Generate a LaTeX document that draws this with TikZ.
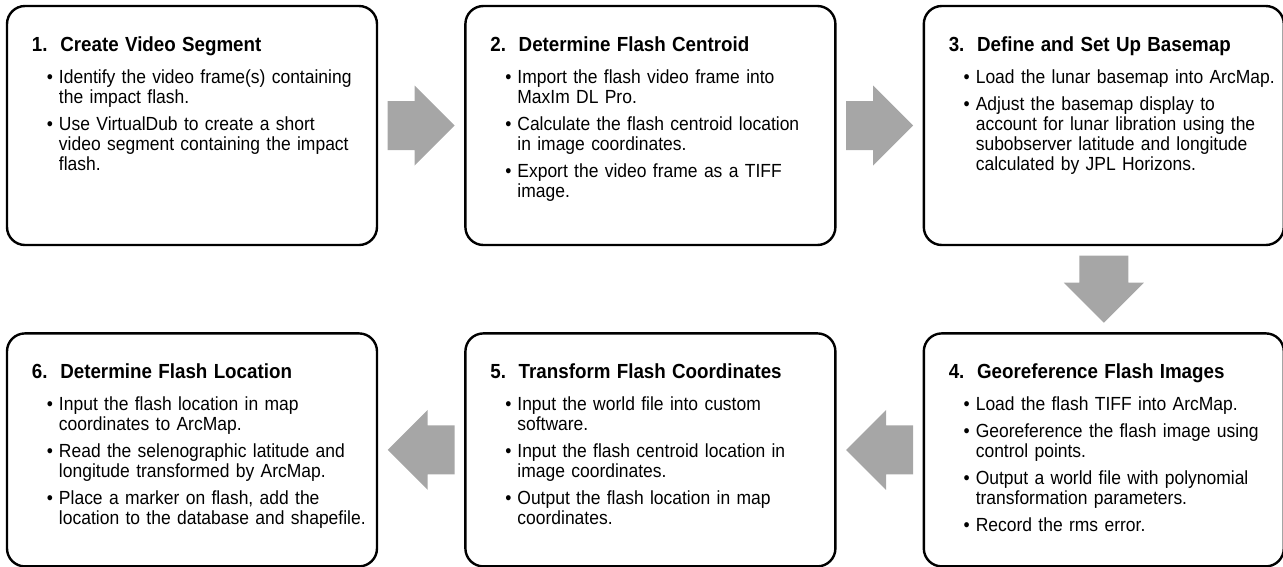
\documentclass[tikz,border=0pt]{standalone}
\usepackage{fontspec}
\setmainfont{Liberation Sans}[FakeStretch=0.92]
\usepackage{enumitem}
\setlist[itemize]{label=\textbullet, leftmargin=50pt, labelsep=6pt, topsep=12.5pt, partopsep=0pt, itemsep=7pt, parsep=0pt}
\usetikzlibrary{positioning,calc}
\definecolor{arrowgray}{HTML}{A6A6A6}
\tikzset{
  stepbox/.style={draw, line width=2.4pt, rounded corners=18pt, inner xsep=2pt, inner ysep=31pt,
    text width=366pt, text height=14pt, text depth=163pt, font=\fontsize{19}{20}\selectfont},
  flowarrow/.pic={
    \fill[arrowgray] (-33.5,-24.5) -- (-6.5,-24.5) -- (-6.5,-40) -- (33.5,0)
      -- (-6.5,40) -- (-6.5,24.5) -- (-33.5,24.5) -- cycle;
  }
}
\newcommand{\steptitle}[1]{\raggedright\hspace*{23pt}{\fontsize{20.4}{20}\selectfont\bfseries #1}\par}
\begin{document}
\begin{tikzpicture}[x=1pt, y=-1pt, node distance=86pt]
\useasboundingbox (0,0) rectangle (1283,566);

% top row
\node[stepbox] (segment) at (192,125.5) {\steptitle{1.~~Create Video Segment}
\begin{itemize}
\item Identify the video frame(s) containing\\ the impact flash.
\item Use VirtualDub to create a short\\ video segment containing the impact\\ flash.
\end{itemize}};
\node[stepbox, right=of segment] (centroid) {\steptitle{2.~~Determine Flash Centroid}
\begin{itemize}
\item Import the flash video frame into\\ MaxIm DL Pro.
\item Calculate the flash centroid location\\ in image coordinates.
\item Export the video frame as a TIFF\\ image.
\end{itemize}};
\node[stepbox, text width=356pt, right=of centroid] (basemap) {\steptitle{3.~~Define and Set Up Basemap}
\begin{itemize}
\item Load the lunar basemap into ArcMap.
\item Adjust the basemap display to\\ account for lunar libration using the\\ subobserver latitude and longitude\\ calculated by JPL Horizons.
\end{itemize}};

% bottom row
\node[stepbox, text width=356pt, text depth=157pt, below=of basemap] (georef) {\steptitle{4.~~Georeference Flash Images}
\begin{itemize}
\item Load the flash TIFF into ArcMap.
\item Georeference the flash image using\\ control points.
\item Output a world file with polynomial\\ transformation parameters.
\item Record the rms error.
\end{itemize}};
\node[stepbox, text depth=157pt, left=of georef] (transform) {\steptitle{5.~~Transform Flash Coordinates}
\begin{itemize}
\item Input the world file into custom\\ software.
\item Input the flash centroid location in\\ image coordinates.
\item Output the flash location in map\\ coordinates.
\end{itemize}};
\node[stepbox, text depth=157pt, left=of transform] (location) {\steptitle{6.~~Determine Flash Location}
\begin{itemize}
\item Input the flash location in map\\ coordinates to ArcMap.
\item Read the selenographic latitude and\\ longitude transformed by ArcMap.
\item Place a marker on flash, add the\\ location to the database and shapefile.
\end{itemize}};

% block arrows
\pic at ($(segment.east)!.5!(centroid.west)$) {flowarrow};
\pic at ($(centroid.east)!.5!(basemap.west)$) {flowarrow};
\pic[rotate=-90] at ($(basemap.south)!.5!(georef.north)$) {flowarrow};
\pic[rotate=180] at ($(georef.west)!.5!(transform.east)$) {flowarrow};
\pic[rotate=180] at ($(transform.west)!.5!(location.east)$) {flowarrow};
\end{tikzpicture}
\end{document}
